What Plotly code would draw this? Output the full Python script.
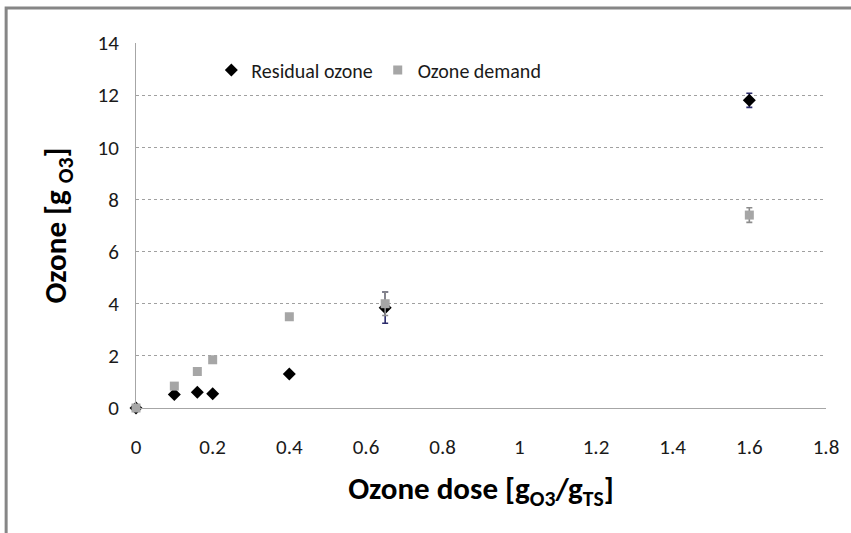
import plotly.graph_objects as go

# Ozone dose (g O3 / g TS)
dose = [0, 0.10, 0.16, 0.20, 0.40, 0.65, 1.60]

# Residual ozone (g O3) and its standard deviation
residual = [0, 0.52, 0.60, 0.55, 1.30, 3.85, 11.80]
residual_err = [None, None, None, None, None, 0.60, 0.27]

# Ozone demand (g O3) and its standard deviation
demand = [0, 0.84, 1.40, 1.85, 3.50, 4.00, 7.40]
demand_err = [None, None, None, None, None, 0.45, 0.28]

x_ticks = [0, 0.2, 0.4, 0.6, 0.8, 1.0, 1.2, 1.4, 1.6, 1.8]
x_tick_text = ["0", "0.2", "0.4", "0.6", "0.8", "1", "1.2", "1.4", "1.6", "1.8"]
y_ticks = [0, 2, 4, 6, 8, 10, 12, 14]

FONT = "Carlito, Lato, 'Open Sans', sans-serif"

W, H = 851, 533
L, R, T, B = 136, 19, 43, 125

fig = go.Figure()

fig.add_trace(go.Scatter(
    x=dose, y=residual, mode="markers", name="Residual ozone",
    marker=dict(symbol="diamond", size=10, color="#000000"),
    error_y=dict(type="data", array=residual_err, visible=True,
                 color="#2B2B6B", thickness=1.6, width=3),
    cliponaxis=False,
))
fig.add_trace(go.Scatter(
    x=dose, y=demand, mode="markers", name="Ozone demand",
    marker=dict(symbol="square", size=9, color="#A6A6A6"),
    error_y=dict(type="data", array=demand_err, visible=True,
                 color="#8C8C8C", thickness=1.6, width=3),
    cliponaxis=False,
))

# outer chart frame (top and left edges visible)
pw, ph = W - L - R, H - T - B
def px_x(p):
    return (p - L) / pw
def px_y(p):
    return (H - B - p) / ph

fig.add_shape(type="rect", xref="paper", yref="paper",
              x0=px_x(5), x1=px_x(W + 10), y0=px_y(8), y1=px_y(H + 10),
              line=dict(color="#868686", width=3), fillcolor="rgba(0,0,0,0)",
              layer="below")

fig.update_layout(
    width=W, height=H,
    margin=dict(l=L, r=R, t=T, b=B),
    paper_bgcolor="white", plot_bgcolor="white",
    font=dict(family=FONT, size=21, color="#1a1a1a"),
    showlegend=True,
    legend=dict(orientation="h", x=px_x(212), y=px_y(70), xanchor="left",
                yanchor="middle", font=dict(size=20, color="#1a1a1a"),
                bgcolor="rgba(255,255,255,0)", itemwidth=30,
                tracegroupgap=0),
    xaxis=dict(
        range=[0, 1.8], tickvals=x_ticks, ticktext=x_tick_text,
        showgrid=False, zeroline=False,
        showline=True, linecolor="#A6A6A6", linewidth=1,
        ticks="", ticklen=0, tickfont=dict(size=21), ticklabelstandoff=20,
        title=dict(text="<b>Ozone dose [g<sub>O3</sub>/g<sub>TS</sub>]</b>",
                   font=dict(size=31, color="#000000"), standoff=18),
    ),
    yaxis=dict(
        range=[0, 14], tickvals=y_ticks,
        showgrid=True, gridcolor="#A0A0A0", griddash="dot", gridwidth=1,
        zeroline=False,
        showline=True, linecolor="#A6A6A6", linewidth=1,
        ticks="", ticklen=0, tickfont=dict(size=21), ticklabelstandoff=12,
        title=dict(text="<b>Ozone [g <sub>O3</sub>]</b>",
                   font=dict(size=31, color="#000000"), standoff=21),
    ),
)

fig.write_html("out.html")
